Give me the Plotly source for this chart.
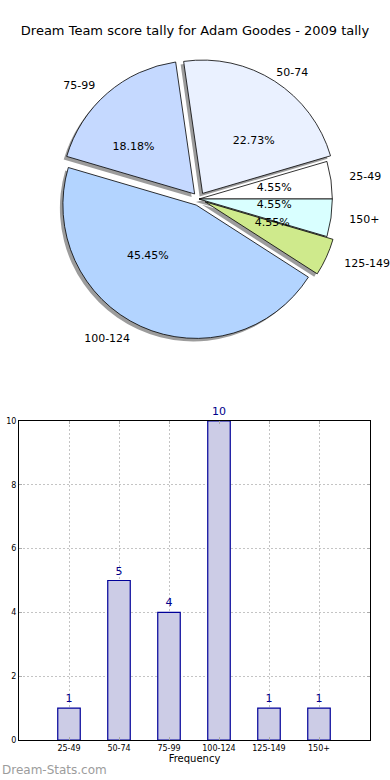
import plotly.graph_objects as go

categories = ["25-49", "50-74", "75-99", "100-124", "125-149", "150+"]
counts = [1, 5, 4, 10, 1, 1]
pie_colors = ["#FFFFFF", "#EAF1FF", "#C5D9FF", "#B3D4FF", "#CFEA8C", "#D9FFFF"]
pulls = [0.0, 0.05, 0.05, 0.05, 0.05, 0.0]
# which category labels sit on the wider (right-hand) label ring
wide_label = [True, False, False, False, True, True]
title_text = "Dream Team score tally for Adam Goodes - 2009 tally"
watermark = "Dream-Stats.com"

FONT = "DejaVu Sans"
W, H = 390, 780
ML, MR, MT, MB = 19, 20, 0, 40
PW, PH = W - ML - MR, H - MT - MB

cx, cy = 199, 199          # pie centre in px
R_MAIN = 140               # half-size of pie domain (incl. pull room)
R_PCT = 60                 # ring on which percentage labels sit
R_LBL = 146                # ring on which category labels sit
R_LBL_WIDE = 156

# first slice starts at 3 o'clock and runs counter-clockwise
start_rot = 90 - 360 * counts[0] / sum(counts)


def dom(cx_, cy_, r_):
    return dict(x=[(cx_ - r_ - ML) / PW, (cx_ + r_ - ML) / PW],
                y=[(H - MB - (cy_ + r_)) / PH, (H - MB - (cy_ - r_)) / PH])


common = dict(labels=categories, values=counts, sort=False,
              direction="counterclockwise", rotation=start_rot, pull=pulls,
              showlegend=False, automargin=False)
clear = dict(colors=["rgba(0,0,0,0)"] * len(categories), line=dict(width=0))

fig = go.Figure()

# shadow
fig.add_trace(go.Pie(
    **common, domain=dom(cx - 3, cy + 3, R_MAIN),
    marker=dict(colors=["rgba(90,90,90,0.6)"] * len(categories), line=dict(width=0)),
    textinfo="none", hoverinfo="skip"))

# main pie
fig.add_trace(go.Pie(
    **common, domain=dom(cx, cy, R_MAIN),
    marker=dict(colors=pie_colors, line=dict(color="black", width=0.8)),
    textinfo="none"))

# percentage labels (transparent inner ring, text outside of it)
fig.add_trace(go.Pie(
    **common, domain=dom(cx - 2, cy - 3, R_PCT), marker=clear,
    texttemplate="%{percent:.2%}", textposition="outside",
    outsidetextfont=dict(family=FONT, size=11, color="black"),
    hoverinfo="skip"))

# category labels (transparent outer rings)
fig.add_trace(go.Pie(
    **common, domain=dom(cx - 5, cy + 1, R_LBL), marker=clear,
    texttemplate=["" if w else "%{label}" for w in wide_label],
    textposition="outside",
    outsidetextfont=dict(family=FONT, size=11, color="black"),
    hoverinfo="skip"))
fig.add_trace(go.Pie(
    **common, domain=dom(cx, cy - 1, R_LBL_WIDE), marker=clear,
    texttemplate=["%{label}" if w else "" for w in wide_label],
    textposition="outside",
    outsidetextfont=dict(family=FONT, size=11, color="black"),
    hoverinfo="skip"))

# bar chart
fig.add_trace(go.Bar(
    x=categories, y=counts, width=0.45,
    marker=dict(color="#CCCCE6", line=dict(color="#000099", width=1.2)),
    text=[str(c) for c in counts], textposition="outside",
    textfont=dict(family=FONT, size=11, color="#00008B"),
    cliponaxis=False, showlegend=False, xaxis="x", yaxis="y"))

axis_common = dict(showline=True, mirror="ticks", linecolor="black", linewidth=1,
                   showgrid=True, gridcolor="#C4C4C4", griddash="2px,2px",
                   gridwidth=1, automargin=False,
                   ticks="inside", ticklen=3, tickcolor="#AAAAAA",
                   tickfont=dict(family=FONT, size=8, color="black"),
                   zeroline=False)

fig.update_layout(
    width=W, height=H,
    margin=dict(l=ML, r=MR, t=MT, b=MB, autoexpand=False),
    paper_bgcolor="white", plot_bgcolor="white",
    font=dict(family=FONT, color="black"),
    title=dict(text=title_text, x=0.5, xanchor="center", y=1 - 30 / H,
               yanchor="middle", yref="container",
               font=dict(family=FONT, size=13, color="black")),
    xaxis=dict(domain=[0, 1], range=[-1, 6.02],
               title=dict(text="Frequency", font=dict(family=FONT, size=10),
                          standoff=2), **axis_common),
    yaxis=dict(domain=[0, (H - MB - 421) / PH], range=[0, 10], dtick=2,
               **axis_common),
    annotations=[dict(text=watermark, x=0, xref="paper", xanchor="left",
                      y=-(770 - (H - MB)) / PH, yref="paper", yanchor="middle",
                      showarrow=False, xshift=-ML,
                      font=dict(family=FONT, size=12, color="#9C9C9C"))],
)

fig.write_html("out.html", config={"displayModeBar": False},
               post_script="document.body.style.margin='0px';")
